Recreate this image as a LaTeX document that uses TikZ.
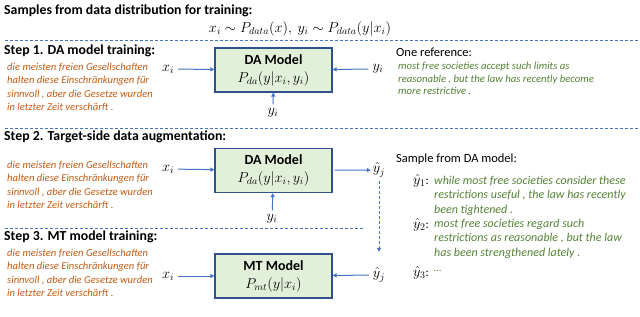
\documentclass[tikz,border=0pt]{standalone}
\usepackage{fontspec}
\setmainfont{Carlito}
\usepackage{amsmath}
\usetikzlibrary{arrows.meta,positioning}
\definecolor{srcorange}{HTML}{C55A11}
\definecolor{tgtgreen}{HTML}{548235}
\definecolor{boxfill}{HTML}{E2F0D9}
\definecolor{boxline}{HTML}{2F528F}
\definecolor{arblue}{HTML}{4472C4}
\tikzset{
  model/.style   = {rectangle, draw=boxline, line width=1.2pt, fill=boxfill,
                    minimum width=117pt, minimum height=44pt, align=center,
                    inner sep=2pt, font=\fontsize{14}{18}\selectfont},
  steplbl/.style = {anchor=west, inner sep=0pt,
                    font=\bfseries\fontsize{13.8}{16}\selectfont},
  src/.style     = {anchor=north west, inner sep=0pt, align=left,
                    text=srcorange, font=\itshape\fontsize{10.6}{13.3}\selectfont},
  tgt/.style     = {anchor=north west, inner sep=0pt, align=left,
                    text=tgtgreen, font=\itshape\fontsize{10.7}{12.6}\selectfont},
  var/.style     = {inner sep=2pt, font=\fontsize{14.5}{17}\selectfont},
  plain/.style   = {anchor=west, inner sep=0pt, font=\fontsize{12.5}{15}\selectfont},
  ar/.style      = {-{Triangle[length=4pt,width=4pt]}, line width=1pt,
                    draw=arblue, shorten <=2pt},
  sep/.style     = {dash pattern=on 3pt off 2pt, line width=0.8pt, draw=arblue}
}

\begin{document}
\begin{tikzpicture}[x=1pt, y=-1pt]
    \useasboundingbox (0,0) rectangle (640,316);

    % ---- Header ----
    \node[steplbl] (title) at (4,11) {Samples from data distribution for training:};
    \node[var] (dist) at (300,29) {$x_i \sim P_{data}(x),\ y_i \sim P_{data}(y|x_i)$};

    % ---- Separators ----
    \coordinate (s1a) at (5,40);   \coordinate (s1b) at (640,40);
    \coordinate (s2a) at (5,128);  \coordinate (s2b) at (640,128);
    \coordinate (s3a) at (5,228);  \coordinate (s3b) at (365,228);
    \draw[sep] (s1a) -- (s1b);
    \draw[sep] (s2a) -- (s2b);
    \draw[sep] (s3a) -- (s3b);

    % ---- Step 1 ----
    \node[steplbl] (step1) at (4,51) {Step 1. DA model training:};
    \node[src] (src1) at (7,63) {die meisten freien Gesellschaften\\
                     halten diese Einschränkungen für\\
                     sinnvoll , aber die Gesetze wurden\\
                     in letzter Zeit verschärft .};
    \node[model] (da1) at (273.5,70) {\textbf{DA Model}\\ $P_{da}(y|x_i,y_i)$};
    \node[var] (xi1) at (168,69) {$x_i$};
    \node[var] (yi1b) at (273,113) {$y_i$};
    \node[var] (yi1r) at (378,69) {$y_i$};
    \node[plain] (oneref) at (396,52) {One reference:};
    \node[tgt] (ref1) at (398,62) {most free societies accept such limits as\\
                     reasonable , but the law has recently become\\
                     more restrictive .};

    % ---- Step 2 ----
    \node[steplbl] (step2) at (4,137) {Step 2. Target-side data augmentation:};
    \node[src] (src2) at (7,161) {die meisten freien Gesellschaften\\
                     halten diese Einschränkungen für\\
                     sinnvoll , aber die Gesetze wurden\\
                     in letzter Zeit verschärft .};
    \node[model] (da2) at (273.5,170.5) {\textbf{DA Model}\\ $P_{da}(y|x_i,y_i)$};
    \node[var] (xi2) at (168,169) {$x_i$};
    \node[var] (yi2b) at (272,219) {$y_i$};
    \node[var] (yhat2) at (379,170) {$\hat{y}_j$};
    \node[plain] (sample) at (396,159) {Sample from DA model:};
    \node[var, anchor=east] (yh1) at (431,181) {$\hat{y}_1$\fontsize{12}{14}\selectfont:};
    \node[tgt, font=\itshape\fontsize{12}{14.3}\selectfont] (samp1) at (434,176)
                    {while most free societies consider these\\
                     restrictions useful , the law has recently\\
                     been tightened .};
    \node[var, anchor=east] (yh2) at (431,225) {$\hat{y}_2$\fontsize{12}{14}\selectfont:};
    \node[tgt, font=\itshape\fontsize{12}{14.3}\selectfont] (samp2) at (434,219)
                    {most free societies regard such\\
                     restrictions as reasonable , but the law\\
                     has been strengthened lately .};
    \node[var, anchor=east] (yh3) at (431,273) {$\hat{y}_3$\fontsize{12}{14}\selectfont:};
    \node[tgt, anchor=west] (samp3) at (434,271) {\dots};

    % ---- Step 3 ----
    \node[steplbl] (step3) at (4,237) {Step 3. MT model training:};
    \node[src] (src3) at (7,249) {die meisten freien Gesellschaften\\
                     halten diese Einschränkungen für\\
                     sinnvoll , aber die Gesetze wurden\\
                     in letzter Zeit verschärft .};
    \node[model] (mt) at (273.5,276) {\textbf{MT Model}\\ $P_{mt}(y|x_i)$};
    \node[var] (xi3) at (168,276) {$x_i$};
    \node[var] (yhat3) at (379,275) {$\hat{y}_j$};

    % ---- Arrows ----
    \draw[ar] (xi1) -- (da1);
    \draw[ar] (yi1b) -- (da1);
    \draw[ar] (yi1r) -- (da1);
    \draw[ar] (xi2) -- (da2);
    \draw[ar] (yi2b) -- (da2);
    \draw[ar] (da2) -- (yhat2);
    \draw[ar, dash pattern=on 3pt off 2pt, shorten >=14pt] (yhat2) -- (yhat3);
    \draw[ar] (xi3) -- (mt);
    \draw[ar] (yhat3) -- (mt);
\end{tikzpicture}
\end{document}
